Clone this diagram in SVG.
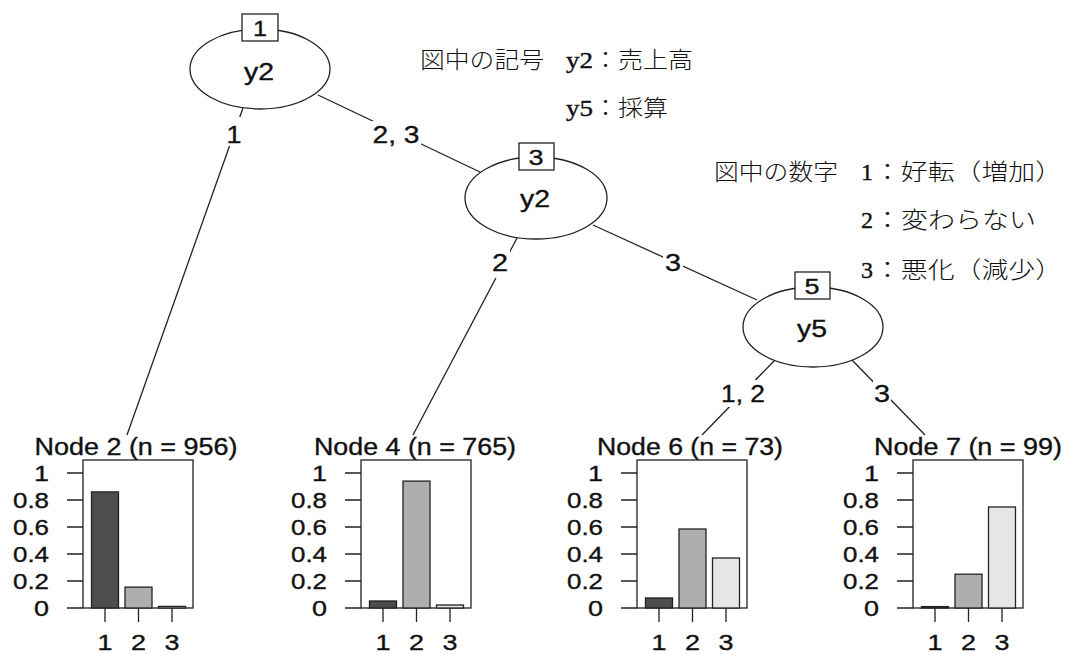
<svg xmlns="http://www.w3.org/2000/svg" width="1067" height="655" viewBox="0 0 1067 655">
  <style>
    .ln { stroke: #222; stroke-width: 1.3; fill: none; }
    .nd { stroke: #222; stroke-width: 1.3; fill: #fff; }
    .sans { font-family: "Liberation Sans", Arial, sans-serif; fill: #111; stroke: #111; stroke-width: 0.35; }
    .t22 { font-size: 23px; }
    .t21 { font-size: 22px; }
    .mid { text-anchor: middle; }
    .end { text-anchor: end; }
    .lg { font-family: "Noto Sans CJK JP", sans-serif; font-size: 23px; font-weight: 300; fill: #111; }
    .lgl { font-family: "Liberation Serif", "Noto Sans CJK JP", serif; font-size: 24px; fill: #111; stroke: #111; stroke-width: 0.4; }
    .c1 { fill: #4d4d4d; stroke: #222; stroke-width: 1.3; }
    .c2 { fill: #aeaeae; stroke: #222; stroke-width: 1.3; }
    .c3 { fill: #e6e6e6; stroke: #222; stroke-width: 1.3; }
    .frame { fill: #fff; stroke: #222; stroke-width: 1.3; }
  </style>
  <rect width="1067" height="655" fill="#fff"/>

  <!-- tree edges -->
  <g id="connectors">
    <line class="ln" x1="243" y1="108" x2="127" y2="435"/>
    <line class="ln" x1="318" y1="95" x2="480" y2="172"/>
    <line class="ln" x1="517" y1="238" x2="413" y2="435"/>
    <line class="ln" x1="593" y1="225" x2="757" y2="300"/>
    <line class="ln" x1="775" y1="360" x2="702" y2="435"/>
    <line class="ln" x1="852" y1="360" x2="925" y2="435"/>
    <!-- split labels with white backing -->
    <rect x="226" y="117" width="17" height="29" fill="#fff"/>
    <text class="sans t22 mid" x="234" y="143" textLength="15" lengthAdjust="spacingAndGlyphs">1</text>
    <rect x="372" y="121" width="49" height="27" fill="#fff"/>
    <text class="sans t22 mid" x="396" y="143" textLength="47" lengthAdjust="spacingAndGlyphs">2, 3</text>
    <rect x="491" y="250" width="19" height="28" fill="#fff"/>
    <text class="sans t22 mid" x="500" y="271" textLength="16" lengthAdjust="spacingAndGlyphs">2</text>
    <rect x="663" y="250" width="20" height="26" fill="#fff"/>
    <text class="sans t22 mid" x="673" y="271" textLength="16" lengthAdjust="spacingAndGlyphs">3</text>
    <rect x="719" y="380" width="48" height="27" fill="#fff"/>
    <text class="sans t22 mid" x="743" y="402" textLength="44" lengthAdjust="spacingAndGlyphs">1, 2</text>
    <rect x="873" y="380" width="18" height="27" fill="#fff"/>
    <text class="sans t22 mid" x="882" y="402" textLength="16" lengthAdjust="spacingAndGlyphs">3</text>
  </g>

  <!-- inner nodes -->
  <g id="node1">
    <ellipse class="nd" cx="260" cy="69" rx="70" ry="40"/>
    <rect class="nd" x="242" y="14" width="36" height="27"/>
    <text class="sans t21 mid" x="260" y="36" textLength="14" lengthAdjust="spacingAndGlyphs">1</text>
    <text class="sans t22 mid" x="259" y="80" textLength="30" lengthAdjust="spacingAndGlyphs">y2</text>
  </g>
  <g id="node3">
    <ellipse class="nd" cx="536" cy="198" rx="71" ry="41"/>
    <rect class="nd" x="519" y="143" width="35" height="27"/>
    <text class="sans t21 mid" x="536" y="165" textLength="15" lengthAdjust="spacingAndGlyphs">3</text>
    <text class="sans t22 mid" x="535" y="207" textLength="30" lengthAdjust="spacingAndGlyphs">y2</text>
  </g>
  <g id="node5">
    <ellipse class="nd" cx="813" cy="327" rx="70" ry="40"/>
    <rect class="nd" x="795" y="272" width="35" height="27"/>
    <text class="sans t21 mid" x="812" y="294" textLength="15" lengthAdjust="spacingAndGlyphs">5</text>
    <text class="sans t22 mid" x="812" y="337" textLength="30" lengthAdjust="spacingAndGlyphs">y5</text>
  </g>

  <!-- terminal node: Node 2 -->
  <g id="node2">
    <text class="sans t22 mid" x="136" y="455" textLength="203" lengthAdjust="spacingAndGlyphs">Node 2 (n = 956)</text>
    <rect class="frame" x="83" y="460" width="110" height="148"/>
    <rect class="c1" x="91.5" y="491.9" width="27" height="116.1"/>
    <rect class="c2" x="125" y="587.1" width="27" height="20.9"/>
    <rect class="c3" x="158.5" y="606.4" width="27" height="1.6"/>
    <g class="ln">
      <path d="M67 608H83M67 581H83M67 554H83M67 527H83M67 500H83M67 473H83"/>
      <path d="M105 608V622M138.5 608V622M172 608V622"/>
    </g>
    <g class="sans t21 end">
      <text x="49" y="616" textLength="15" lengthAdjust="spacingAndGlyphs">0</text>
      <text x="49" y="589" textLength="36" lengthAdjust="spacingAndGlyphs">0.2</text>
      <text x="49" y="562" textLength="36" lengthAdjust="spacingAndGlyphs">0.4</text>
      <text x="49" y="535" textLength="36" lengthAdjust="spacingAndGlyphs">0.6</text>
      <text x="49" y="508" textLength="36" lengthAdjust="spacingAndGlyphs">0.8</text>
      <text x="49" y="481" textLength="15" lengthAdjust="spacingAndGlyphs">1</text>
    </g>
    <g class="sans t21 mid">
      <text x="105" y="650" textLength="15" lengthAdjust="spacingAndGlyphs">1</text>
      <text x="138.5" y="650" textLength="15" lengthAdjust="spacingAndGlyphs">2</text>
      <text x="172" y="650" textLength="15" lengthAdjust="spacingAndGlyphs">3</text>
    </g>
  </g>

  <!-- terminal node: Node 4 -->
  <g id="node4">
    <text class="sans t22 mid" x="415" y="455" textLength="202" lengthAdjust="spacingAndGlyphs">Node 4 (n = 765)</text>
    <rect class="frame" x="361" y="460" width="110" height="148"/>
    <rect class="c1" x="369.5" y="601" width="27" height="7"/>
    <rect class="c2" x="403" y="481.1" width="27" height="126.9"/>
    <rect class="c3" x="436.5" y="605" width="27" height="3"/>
    <g class="ln">
      <path d="M345 608H361M345 581H361M345 554H361M345 527H361M345 500H361M345 473H361"/>
      <path d="M383 608V622M416.5 608V622M450 608V622"/>
    </g>
    <g class="sans t21 end">
      <text x="327" y="616" textLength="15" lengthAdjust="spacingAndGlyphs">0</text>
      <text x="327" y="589" textLength="36" lengthAdjust="spacingAndGlyphs">0.2</text>
      <text x="327" y="562" textLength="36" lengthAdjust="spacingAndGlyphs">0.4</text>
      <text x="327" y="535" textLength="36" lengthAdjust="spacingAndGlyphs">0.6</text>
      <text x="327" y="508" textLength="36" lengthAdjust="spacingAndGlyphs">0.8</text>
      <text x="327" y="481" textLength="15" lengthAdjust="spacingAndGlyphs">1</text>
    </g>
    <g class="sans t21 mid">
      <text x="383" y="650" textLength="15" lengthAdjust="spacingAndGlyphs">1</text>
      <text x="416.5" y="650" textLength="15" lengthAdjust="spacingAndGlyphs">2</text>
      <text x="450" y="650" textLength="15" lengthAdjust="spacingAndGlyphs">3</text>
    </g>
  </g>

  <!-- terminal node: Node 6 -->
  <g id="node6">
    <text class="sans t22 mid" x="690" y="455" textLength="186" lengthAdjust="spacingAndGlyphs">Node 6 (n = 73)</text>
    <rect class="frame" x="637" y="460" width="110" height="148"/>
    <rect class="c1" x="645.5" y="598" width="27" height="10"/>
    <rect class="c2" x="679" y="529" width="27" height="79"/>
    <rect class="c3" x="712.5" y="558" width="27" height="50"/>
    <g class="ln">
      <path d="M621 608H637M621 581H637M621 554H637M621 527H637M621 500H637M621 473H637"/>
      <path d="M659 608V622M692.5 608V622M726 608V622"/>
    </g>
    <g class="sans t21 end">
      <text x="603" y="616" textLength="15" lengthAdjust="spacingAndGlyphs">0</text>
      <text x="603" y="589" textLength="36" lengthAdjust="spacingAndGlyphs">0.2</text>
      <text x="603" y="562" textLength="36" lengthAdjust="spacingAndGlyphs">0.4</text>
      <text x="603" y="535" textLength="36" lengthAdjust="spacingAndGlyphs">0.6</text>
      <text x="603" y="508" textLength="36" lengthAdjust="spacingAndGlyphs">0.8</text>
      <text x="603" y="481" textLength="15" lengthAdjust="spacingAndGlyphs">1</text>
    </g>
    <g class="sans t21 mid">
      <text x="659" y="650" textLength="15" lengthAdjust="spacingAndGlyphs">1</text>
      <text x="692.5" y="650" textLength="15" lengthAdjust="spacingAndGlyphs">2</text>
      <text x="726" y="650" textLength="15" lengthAdjust="spacingAndGlyphs">3</text>
    </g>
  </g>

  <!-- terminal node: Node 7 -->
  <g id="node7">
    <text class="sans t22 mid" x="968" y="455" textLength="188" lengthAdjust="spacingAndGlyphs">Node 7 (n = 99)</text>
    <rect class="frame" x="913" y="460" width="110" height="148"/>
    <rect class="c1" x="921.5" y="606.6" width="27" height="1.4"/>
    <rect class="c2" x="955" y="574.2" width="27" height="33.8"/>
    <rect class="c3" x="988.5" y="507" width="27" height="101"/>
    <g class="ln">
      <path d="M897 608H913M897 581H913M897 554H913M897 527H913M897 500H913M897 473H913"/>
      <path d="M935 608V622M968.5 608V622M1002 608V622"/>
    </g>
    <g class="sans t21 end">
      <text x="879" y="616" textLength="15" lengthAdjust="spacingAndGlyphs">0</text>
      <text x="879" y="589" textLength="36" lengthAdjust="spacingAndGlyphs">0.2</text>
      <text x="879" y="562" textLength="36" lengthAdjust="spacingAndGlyphs">0.4</text>
      <text x="879" y="535" textLength="36" lengthAdjust="spacingAndGlyphs">0.6</text>
      <text x="879" y="508" textLength="36" lengthAdjust="spacingAndGlyphs">0.8</text>
      <text x="879" y="481" textLength="15" lengthAdjust="spacingAndGlyphs">1</text>
    </g>
    <g class="sans t21 mid">
      <text x="935" y="650" textLength="15" lengthAdjust="spacingAndGlyphs">1</text>
      <text x="968.5" y="650" textLength="15" lengthAdjust="spacingAndGlyphs">2</text>
      <text x="1002" y="650" textLength="15" lengthAdjust="spacingAndGlyphs">3</text>
    </g>
  </g>

  <!-- legend: symbols and category codes -->
  <g id="legend">
    <text class="lg" x="420" y="68" textLength="124" lengthAdjust="spacingAndGlyphs">図中の記号</text>
    <text class="lgl" x="566" y="68" textLength="27" lengthAdjust="spacingAndGlyphs">y2</text>
    <text class="lg" x="593" y="68" textLength="100" lengthAdjust="spacingAndGlyphs">：売上高</text>
    <text class="lgl" x="566" y="116" textLength="27" lengthAdjust="spacingAndGlyphs">y5</text>
    <text class="lg" x="593" y="116" textLength="75" lengthAdjust="spacingAndGlyphs">：採算</text>

    <text class="lg" x="714" y="180" textLength="124" lengthAdjust="spacingAndGlyphs">図中の数字</text>
    <text class="lgl" x="861" y="180" textLength="12" lengthAdjust="spacingAndGlyphs">1</text>
    <text class="lg" x="874" y="180" textLength="188" lengthAdjust="spacingAndGlyphs">：好転（増加）</text>
    <text class="lgl" x="861" y="228" textLength="12" lengthAdjust="spacingAndGlyphs">2</text>
    <text class="lg" x="874" y="228" textLength="162" lengthAdjust="spacingAndGlyphs">：変わらない</text>
    <text class="lgl" x="861" y="278" textLength="12" lengthAdjust="spacingAndGlyphs">3</text>
    <text class="lg" x="874" y="278" textLength="188" lengthAdjust="spacingAndGlyphs">：悪化（減少）</text>
  </g>
</svg>
